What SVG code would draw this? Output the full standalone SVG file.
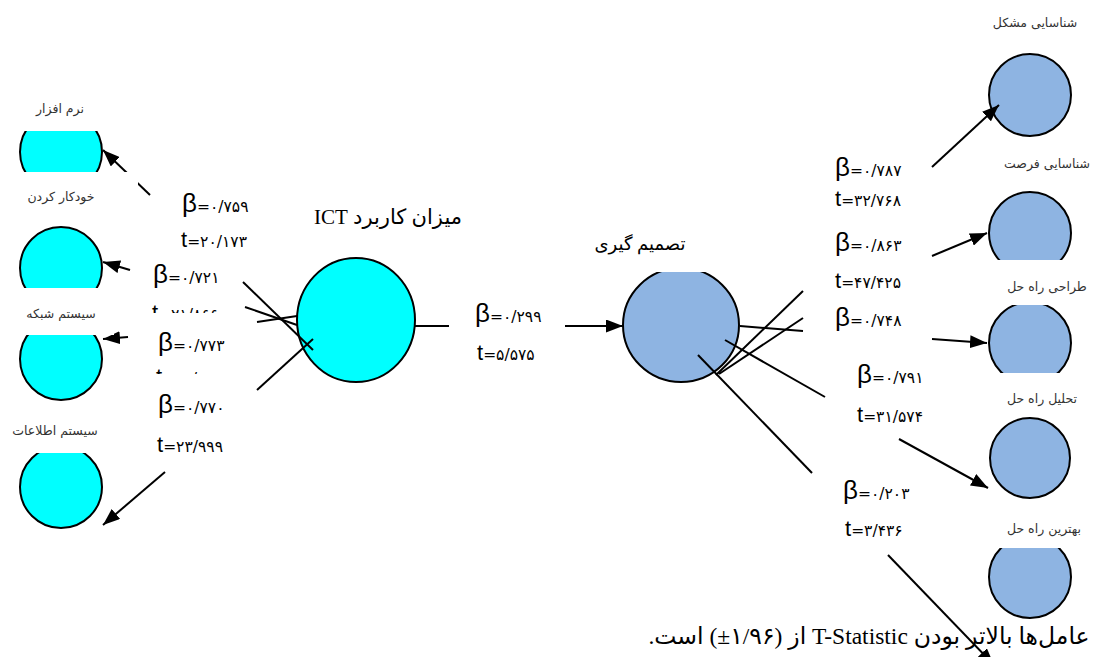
<svg xmlns="http://www.w3.org/2000/svg" width="1094" height="657" viewBox="0 0 1094 657">
<style>
.cy{fill:#00FFFF;stroke:#000;stroke-width:2}
.bl{fill:#8EB4E2;stroke:#000;stroke-width:2}
.wb{fill:#fff;stroke:none}
.lbl{font-family:"DejaVu Sans",sans-serif;font-size:12.5px;fill:#333;direction:rtl;text-anchor:middle}
.ttl{font-family:"Liberation Serif","DejaVu Sans",serif;fill:#000;direction:rtl;text-anchor:middle}
.st{font-family:"Liberation Sans","DejaVu Sans",sans-serif;fill:#000}
.b{font-size:26px}
.t{font-size:22px}
.n{font-size:15.5px;font-family:"DejaVu Sans",sans-serif}
.ln{stroke:#000;stroke-width:2;fill:none}
.ar{stroke:#000;stroke-width:2;fill:none;marker-end:url(#ah)}
</style>
<defs>
<marker id="ah" markerUnits="userSpaceOnUse" markerWidth="17" markerHeight="13" refX="17" refY="6.5" orient="auto">
<path d="M0,0 L17,6.5 L0,13 z" fill="#000"/>
</marker>
</defs>

<g id="node-software"><circle class="cy" cx="61" cy="152" r="41"/></g>
<g id="node-automation"><circle class="cy" cx="61" cy="268" r="41"/></g>
<g id="node-network"><circle class="cy" cx="61" cy="359" r="41"/></g>
<g id="node-infosys"><circle class="cy" cx="61" cy="487" r="41"/></g>
<g id="node-ict"><ellipse class="cy" cx="356" cy="320" rx="59" ry="62"/></g>
<g id="node-decision"><ellipse class="bl" cx="681" cy="325" rx="58" ry="57"/></g>
<g id="node-r1"><circle class="bl" cx="1030" cy="95" r="41"/></g>
<g id="node-r2"><circle class="bl" cx="1030" cy="233" r="41"/></g>
<g id="node-r3"><circle class="bl" cx="1030" cy="343" r="41"/></g>
<g id="node-r4"><circle class="bl" cx="1030" cy="458" r="40"/></g>
<g id="node-r5"><circle class="bl" cx="1030" cy="577" r="41"/></g>

<g id="connectors">
<path class="ar" d="M150,195 L103,150"/>
<path class="ar" d="M130,270 L103,262"/>
<path class="ar" d="M128,337 L103,339"/>
<path class="ar" d="M165,472 L103,525"/>
<path class="ln" d="M243,282 L313,350"/>
<path class="ln" d="M245,307 L297,325"/>
<path class="ln" d="M257,322 L297,316"/>
<path class="ln" d="M257,390 L313,339"/>
<path class="ln" d="M415,326 L449,326"/>
<path class="ar" d="M565,326 L623,326"/>
<path class="ln" d="M740,326 L803,331"/>
<path class="ln" d="M716,375 L803,291"/>
<path class="ln" d="M719,374 L803,318"/>
<path class="ln" d="M725,340 L825,397"/>
<path class="ln" d="M698,355 L812,473"/>
<path class="ar" d="M932,167 L999,105"/>
<path class="ar" d="M932,256 L987,233"/>
<path class="ar" d="M932,339 L987,343"/>
<path class="ar" d="M899,439 L988,488"/>
<path class="ar" d="M888,555 L994,665"/>
</g>

<g id="label-software"><rect class="wb" x="8" y="92" width="106" height="39"/><text class="lbl" x="60" y="113">نرم افزار</text></g>
<g id="label-automation"><rect class="wb" x="0" y="172" width="138" height="40"/><text class="lbl" x="61" y="201">خودکار کردن</text></g>
<g id="label-network"><rect class="wb" x="8" y="288" width="106" height="47"/><text class="lbl" x="61" y="318">سیستم شبکه</text></g>
<g id="label-infosys"><rect class="wb" x="0" y="414" width="115" height="39"/><text class="lbl" x="55" y="435">سیستم اطلاعات</text></g>
<g id="label-ict"><text class="ttl" x="388" y="224" font-size="21">میزان کاربرد ICT</text></g>
<g id="label-decision"><rect class="wb" x="588" y="228" width="160" height="44"/><text class="ttl" x="640" y="250" font-size="18">تصمیم گیری</text></g>
<g id="label-r1"><text class="lbl" x="1035" y="27">شناسایی مشکل</text></g>
<g id="label-r2"><text class="lbl" x="1047" y="168">شناسایی فرصت</text></g>
<g id="label-r3"><rect class="wb" x="975" y="260" width="119" height="45"/><text class="lbl" x="1047" y="291">طراحی راه حل</text></g>
<g id="label-r4"><rect class="wb" x="975" y="373" width="119" height="40"/><text class="lbl" x="1042" y="403">تحلیل راه حل</text></g>
<g id="label-r5"><rect class="wb" x="975" y="508" width="119" height="40"/><text class="lbl" x="1044" y="533">بهترین راه حل</text></g>

<g id="stats">
<text class="st" x="152" y="320"><tspan class="t">t</tspan><tspan class="n">=۲۱/۸۶۶</tspan></text>
<rect class="wb" x="140" y="313" width="100" height="20"/>
<text class="st" x="156" y="384"><tspan class="t">t</tspan><tspan class="n">=۲۴/۵۲۹</tspan></text>
<rect class="wb" x="140" y="374" width="100" height="18"/>
<text class="st" x="182" y="212"><tspan class="b">β</tspan><tspan class="n">=۰/۷۵۹</tspan></text>
<text class="st" x="181" y="247"><tspan class="t">t</tspan><tspan class="n">=۲۰/۱۷۳</tspan></text>
<text class="st" x="153" y="283"><tspan class="b">β</tspan><tspan class="n">=۰/۷۲۱</tspan></text>
<text class="st" x="158" y="351"><tspan class="b">β</tspan><tspan class="n">=۰/۷۷۳</tspan></text>
<text class="st" x="158" y="413"><tspan class="b">β</tspan><tspan class="n">=۰/۷۷۰</tspan></text>
<text class="st" x="157" y="452"><tspan class="t">t</tspan><tspan class="n">=۲۳/۹۹۹</tspan></text>
<text class="st" x="475" y="322"><tspan class="b">β</tspan><tspan class="n">=۰/۲۹۹</tspan></text>
<text class="st" x="477" y="360"><tspan class="t">t</tspan><tspan class="n">=۵/۵۷۵</tspan></text>
<text class="st" x="835" y="176"><tspan class="b">β</tspan><tspan class="n">=۰/۷۸۷</tspan></text>
<text class="st" x="835" y="206"><tspan class="t">t</tspan><tspan class="n">=۳۲/۷۶۸</tspan></text>
<text class="st" x="835" y="251"><tspan class="b">β</tspan><tspan class="n">=۰/۸۶۳</tspan></text>
<text class="st" x="835" y="288"><tspan class="t">t</tspan><tspan class="n">=۴۷/۴۲۵</tspan></text>
<text class="st" x="835" y="326"><tspan class="b">β</tspan><tspan class="n">=۰/۷۴۸</tspan></text>
<text class="st" x="857" y="383"><tspan class="b">β</tspan><tspan class="n">=۰/۷۹۱</tspan></text>
<text class="st" x="857" y="422"><tspan class="t">t</tspan><tspan class="n">=۳۱/۵۷۴</tspan></text>
<text class="st" x="843" y="499"><tspan class="b">β</tspan><tspan class="n">=۰/۲۰۳</tspan></text>
<text class="st" x="845" y="536"><tspan class="t">t</tspan><tspan class="n">=۳/۴۳۶</tspan></text>
</g>

<g id="note"><text class="ttl" x="869" y="644" font-size="23.5">عامل‌ها بالاتر بودن T-Statistic از &#x2066;(±۱/۹۶)&#x2069; است.</text></g>
</svg>
